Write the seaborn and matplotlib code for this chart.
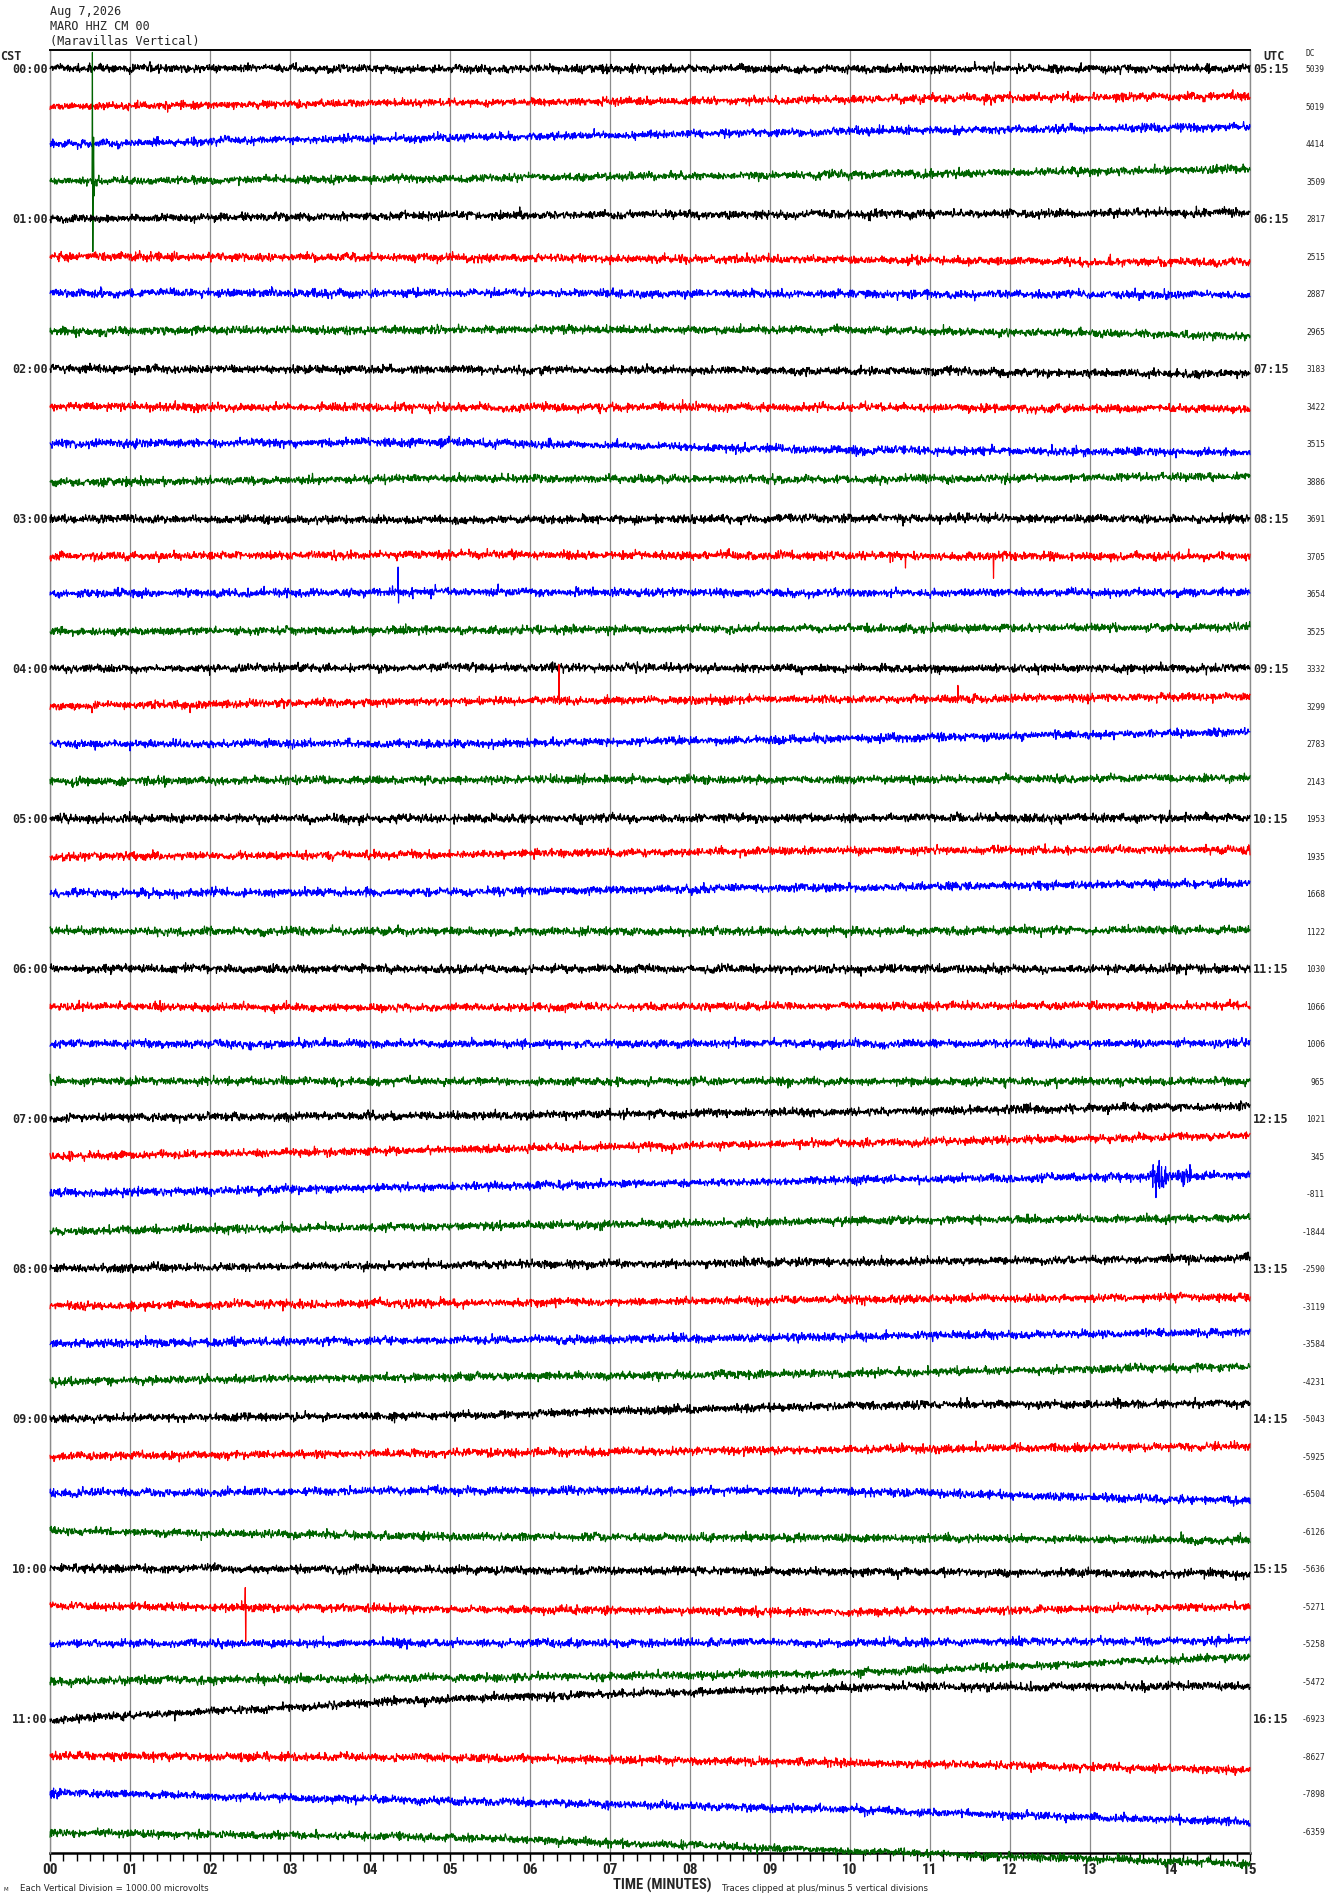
import numpy as np
import pandas as pd
import matplotlib
matplotlib.use("Agg")
import matplotlib.pyplot as plt
import matplotlib.transforms as mtransforms
from matplotlib import font_manager
from matplotlib.ticker import MultipleLocator
import seaborn as sns

# ---------------- data read from the helicorder ----------------
header_lines = ["Aug 7,2026", "MARO HHZ CM 00", "(Maravillas Vertical)"]
cst_labels = ["00:00", "01:00", "02:00", "03:00", "04:00", "05:00",
              "06:00", "07:00", "08:00", "09:00", "10:00", "11:00"]
utc_labels = ["05:15", "06:15", "07:15", "08:15", "09:15", "10:15",
              "11:15", "12:15", "13:15", "14:15", "15:15", "16:15"]
minute_labels = ["00", "01", "02", "03", "04", "05", "06", "07",
                 "08", "09", "10", "11", "12", "13", "14", "15"]
dc_values = [5039, 5019, 4414, 3509, 2817, 2515, 2887, 2965,
             3183, 3422, 3515, 3886, 3691, 3705, 3654, 3525,
             3332, 3299, 2783, 2143, 1953, 1935, 1668, 1122,
             1030, 1066, 1006, 965, 1021, 345, -811, -1844,
             -2590, -3119, -3584, -4231, -5043, -5925, -6504, -6126,
             -5636, -5271, -5258, -5472, -6923, -8627, -7898, -6359]
trace_colors = ["#000000", "#ff0000", "#0000ff", "#006400"]

# slow drift of every line (in line spacings, + = downward) at 0, 5, 10, 15 min
drift_knots_min = [0, 5, 10, 15]
drift_0 = [-0.05, -0.03, -0.03, -0.03, -0.03, -0.03, -0.05, -0.03,
           -0.04, -0.03, -0.04, 0.00, -0.03, -0.03, -0.04, -0.03,
           -0.04, -0.03, -0.04, -0.03, -0.04, -0.03, -0.05, -0.03,
           -0.04, -0.03, -0.04, -0.03, -0.06, -0.03, -0.04, -0.03,
           -0.04, -0.04, -0.04, -0.03, -0.04, -0.03, -0.05, -0.04,
           -0.06, -0.04, -0.03, -0.03, 0.00, -0.04, -0.06, 0.00]
drift_5 = [-0.03, -0.13, -0.20, -0.11, -0.12, 0.01, -0.05, -0.08,
           -0.01, 0.00, -0.08, -0.11, 0.00, -0.08, -0.08, -0.06,
           -0.07, -0.17, -0.03, -0.08, -0.04, -0.08, -0.08, -0.03,
           -0.03, 0.00, -0.03, -0.03, -0.12, -0.21, -0.22, -0.16,
           -0.14, -0.12, -0.12, -0.16, -0.12, -0.12, -0.12, 0.11,
           0.00, 0.04, -0.06, -0.12, -0.57, 0.00, 0.16, 0.13]
drift_10 = [-0.03, -0.21, -0.36, -0.21, -0.16, 0.06, -0.03, -0.07,
            0.02, 0.00, 0.14, -0.08, -0.05, -0.04, -0.05, -0.11,
            -0.04, -0.22, -0.16, -0.08, -0.06, -0.19, -0.21, -0.03,
            -0.03, -0.04, -0.04, -0.03, -0.22, -0.39, -0.40, -0.31,
            -0.21, -0.21, -0.22, -0.24, -0.39, -0.21, -0.10, 0.14,
            0.04, 0.12, -0.06, -0.25, -0.87, 0.14, 0.39, 0.49]
drift_15 = [-0.04, -0.31, -0.49, -0.36, -0.20, 0.14, 0.00, 0.08,
            0.11, 0.04, 0.19, -0.17, -0.03, -0.03, -0.08, -0.14,
            -0.06, -0.29, -0.35, -0.12, -0.06, -0.21, -0.31, -0.08,
            -0.03, -0.04, -0.04, -0.03, -0.37, -0.59, -0.53, -0.39,
            -0.31, -0.29, -0.35, -0.43, -0.45, -0.31, 0.16, 0.21,
            0.10, -0.02, -0.12, -0.69, -0.90, 0.33, 0.73, 0.84]

# single-sample spikes (line index, minute, excursion up, excursion down)
spike_row = [3, 3, 12, 13, 13, 14, 17, 17, 41]
spike_minute = [0.53, 0.545, 10.66, 10.69, 11.79, 4.35, 6.36, 11.35, 2.44]
spike_up = [-3.43, -1.17, -0.05, -0.05, -0.05, -0.67, -0.96, -0.35, -0.53]
spike_down = [1.88, 0.40, 0.21, 0.32, 0.59, 0.29, 0.10, 0.05, 0.91]

# bursts of stronger shaking (line index, start, end, level)
burst_row = [30, 30, 1, 0]
burst_start = [13.72, 14.05, 13.30, 0.0]
burst_end = [14.00, 14.30, 13.60, 2.0]
burst_level = [0.22, 0.20, 0.06, 0.03]

noise_level = 0.05   # background noise, in line spacings

# ---------------- fonts ----------------
installed = {f.name for f in font_manager.fontManager.ttflist}
def first_font(prefs):
    for p in prefs:
        if p in installed:
            return p
    return "DejaVu Sans"
narrow = first_font(["Roboto Condensed", "Liberation Sans Narrow", "Open Sans Condensed",
                     "DejaVu Sans Condensed", "Liberation Sans", "Roboto"])
mono = "DejaVu Sans Mono"

# ---------------- figure ----------------
sns.set_style("white")
plt.rcParams["font.family"] = ["DejaVu Sans"]

W, H = 1330, 1894
fig = plt.figure(figsize=(W / 100, H / 100), dpi=100)
ax_left, ax_right, ax_top, ax_bot = 50, 1250, 50, 1853
ax = fig.add_axes([ax_left / W, 1 - ax_bot / H, (ax_right - ax_left) / W,
                   (ax_bot - ax_top) / H])

n_rows = len(dc_values)
n_samp = 3000
minutes = np.linspace(0, 15, n_samp)
rng = np.random.default_rng(7)   # texture of the background noise only
kern = np.ones(25) / 25

for r in range(n_rows):
    drift = np.interp(minutes, drift_knots_min,
                      [drift_0[r], drift_5[r], drift_10[r], drift_15[r]])
    noise = rng.normal(0, noise_level, n_samp)
    wander = np.convolve(rng.normal(0, noise_level * 1.2, n_samp), kern, mode="same")
    sig = noise + wander
    for b in range(len(burst_row)):
        if burst_row[b] == r:
            m = (minutes >= burst_start[b]) & (minutes <= burst_end[b])
            env = np.sin(np.pi * (minutes[m] - burst_start[b]) /
                         (burst_end[b] - burst_start[b]))
            sig[m] += rng.normal(0, burst_level[b], m.sum()) * env
    for s in range(len(spike_row)):
        if spike_row[s] == r:
            i = int(np.argmin(np.abs(minutes - spike_minute[s])))
            sig[i] = spike_up[s]
            sig[i + 1] = spike_down[s]
    y = r + drift + sig
    df = pd.DataFrame({"minute": minutes, "level": y})
    sns.lineplot(data=df, x="minute", y="level", ax=ax, color=trace_colors[r % 4],
                 lw=0.85, estimator=None, sort=False, legend=False, clip_on=False,
                 zorder=3)

ax.set_xlim(0, 15)
ax.set_ylim(n_rows - 1 + 0.547, -0.533)
ax.set_xlabel("")
ax.set_ylabel("")
ax.set_yticks([])
ax.set_xticks(range(16))
ax.set_xticklabels(minute_labels)
ax.xaxis.set_minor_locator(MultipleLocator(1 / 6))
ax.tick_params(axis="x", which="both", direction="out", length=5.5, width=1,
               color="black", bottom=True, top=False, pad=2)
ax.grid(axis="x", which="major", color="#8c8c8c", lw=0.9)
ax.grid(axis="x", which="minor", visible=False)
ax.set_axisbelow(True)
for lab in ax.get_xticklabels():
    lab.set_fontfamily(narrow)
    lab.set_fontweight("bold")
    lab.set_fontsize(11)

ax.spines["top"].set_color("black")
ax.spines["top"].set_linewidth(1.4)
ax.spines["bottom"].set_color("black")
ax.spines["bottom"].set_linewidth(1.8)
ax.spines["bottom"].set_zorder(2)
for side in ("left", "right"):
    ax.spines[side].set_color("#8c8c8c")
    ax.spines[side].set_linewidth(1.0)

blend = mtransforms.blended_transform_factory(ax.transAxes, ax.transData)
for i in range(len(cst_labels)):
    ax.text(-0.0017, 4 * i, cst_labels[i], transform=blend, ha="right",
            va="center", fontsize=8.5, family=mono, fontweight="bold")
    ax.text(1.0025, 4 * i, utc_labels[i], transform=blend, ha="left",
            va="center", fontsize=8.5, family=mono, fontweight="bold")
for r, v in enumerate(dc_values):
    ax.text(1.0625, r, str(v), transform=blend, ha="right", va="center",
            fontsize=5.7, family=mono)

for k, line in enumerate(header_lines):
    fig.text(50 / W, 1 - (12 + 15 * k) / H, line, ha="left", va="center",
             fontsize=8.5, family=mono)
fig.text(0 / W, 1 - 57 / H, "CST", ha="left", va="center", fontsize=8.5,
         family=mono, fontweight="bold")
fig.text(1274 / W, 1 - 57 / H, "UTC", ha="center", va="center", fontsize=8.5,
         family=mono, fontweight="bold")
fig.text(1306 / W, 1 - 54 / H, "DC", ha="left", va="center", fontsize=5.7,
         family=mono)

fig.text(662 / W, 1 - 1885 / H, "TIME (MINUTES)", ha="center", va="center",
         fontsize=10.5, family=narrow, fontweight="bold")
fig.text(20 / W, 1 - 1888 / H, "Each Vertical Division = 1000.00 microvolts",
         ha="left", va="center", fontsize=6.2)
fig.text(722 / W, 1 - 1888 / H, "Traces clipped at plus/minus 5 vertical divisions",
         ha="left", va="center", fontsize=6.2)
fig.text(3 / W, 1 - 1889 / H, "M", ha="left", va="center", fontsize=4)

fig.savefig("out.png", dpi=100)
